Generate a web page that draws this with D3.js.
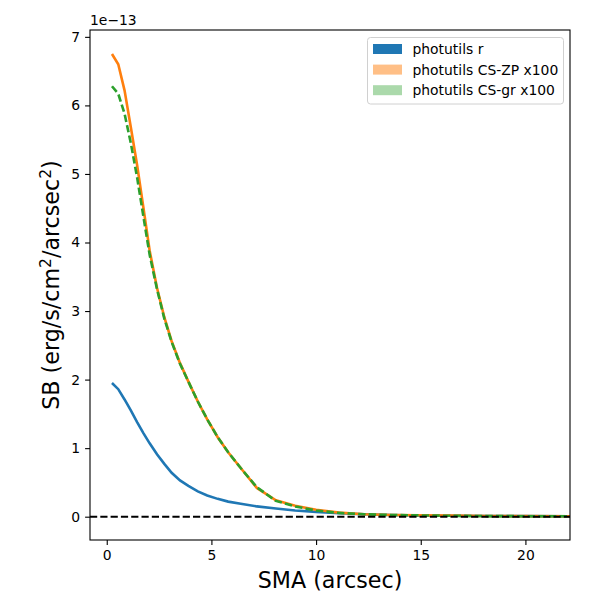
<!DOCTYPE html>
<html>
<head>
<meta charset="utf-8">
<script src="https://cdn.jsdelivr.net/npm/d3@7"></script>
<style>
  body { margin: 0; background: #fff; }
  svg text { font-family: "DejaVu Sans", sans-serif; }
</style>
</head>
<body>
<script>
// semi-major axis (arcsec)
const sma = [0.25, 0.55, 0.85, 1.15, 1.45, 1.75, 2.05, 2.4, 2.75, 3.1, 3.5, 3.9, 4.35, 4.8,
  5.3, 5.8, 6.4, 7.17, 8.08, 9.0, 10.0, 11.1, 12.3, 13.6, 15.0, 16.5, 18.2, 20.0, 22.5];
// surface brightness, units of 1e-13
const sbR = [1.95, 1.86, 1.71, 1.55, 1.38, 1.22, 1.07, 0.91, 0.77, 0.64, 0.53, 0.45, 0.37, 0.31,
  0.26, 0.22, 0.19, 0.15, 0.12, 0.09, 0.07, 0.05, 0.035, 0.025, 0.018, 0.013, 0.01, 0.008, 0.005];
const sbZP = [6.75, 6.60, 6.22, 5.68, 5.13, 4.51, 3.88, 3.34, 2.91, 2.56, 2.24, 1.97, 1.68, 1.42,
  1.16, 0.94, 0.71, 0.42, 0.24, 0.16, 0.10, 0.06, 0.035, 0.025, 0.02, 0.015, 0.01, 0.008, 0.005];
const sbGR = [6.28, 6.17, 5.88, 5.45, 4.95, 4.38, 3.82, 3.32, 2.89, 2.55, 2.23, 1.97, 1.68, 1.42,
  1.16, 0.94, 0.71, 0.43, 0.23, 0.15, 0.09, 0.055, 0.035, 0.025, 0.018, 0.013, 0.009, 0.007, 0.005];
const xTicks = [0, 5, 10, 15, 20];
const yTicks = [0, 1, 2, 3, 4, 5, 6, 7];
const legendLabels = ["photutils r", "photutils CS-ZP x100", "photutils CS-gr x100"];

const w = 600, h = 600;
const padL = 90, padR = 570, padT = 30, padB = 540;

const svg = d3.select("body").append("svg")
  .attr("width", w).attr("height", h);

const x = d3.scaleLinear().domain([-0.8, 22.13]).range([padL, padR]);
const y = d3.scaleLinear().domain([-0.34, 7.1]).range([padB, padT]);

svg.append("clipPath").attr("id", "clip")
  .append("rect").attr("x", padL).attr("y", padT)
  .attr("width", padR - padL).attr("height", padB - padT);

const plot = svg.append("g").attr("clip-path", "url(#clip)");

const line = (vals) => d3.line()
  .x((d, i) => x(sma[i]))
  .y((d) => y(d))(vals);

plot.append("path").attr("d", line(sbR))
  .attr("fill", "none").attr("stroke", "#1f77b4").attr("stroke-width", 2.6);
plot.append("path").attr("d", line(sbZP))
  .attr("fill", "none").attr("stroke", "#ff7f0e").attr("stroke-width", 2.6);
plot.append("path").attr("d", line(sbGR))
  .attr("fill", "none").attr("stroke", "#2ca02c").attr("stroke-width", 2.6)
  .attr("stroke-dasharray", "7.4,3.2");

// zero line
plot.append("line")
  .attr("x1", padL).attr("x2", padR)
  .attr("y1", y(0)).attr("y2", y(0))
  .attr("stroke", "#000").attr("stroke-width", 2)
  .attr("stroke-dasharray", "7.2,3.1");

// axes
const xAxis = svg.append("g")
  .attr("transform", "translate(0," + padB + ")")
  .call(d3.axisBottom(x).tickValues(xTicks).tickSize(4.9).tickPadding(4.9).tickSizeOuter(0));
const yAxis = svg.append("g")
  .attr("transform", "translate(" + padL + ",0)")
  .call(d3.axisLeft(y).tickValues(yTicks).tickSize(4.9).tickPadding(4.9).tickSizeOuter(0));
[xAxis, yAxis].forEach((a) => {
  a.select(".domain").remove();
  a.selectAll("line").attr("stroke", "#000").attr("stroke-width", 1.1);
  a.selectAll("text").attr("font-size", 13.9).attr("fill", "#000")
    .attr("font-family", "DejaVu Sans");
});

svg.append("rect")
  .attr("x", padL).attr("y", padT)
  .attr("width", padR - padL).attr("height", padB - padT)
  .attr("fill", "none").attr("stroke", "#000").attr("stroke-width", 1.1);

// offset text
svg.append("text").attr("x", padL).attr("y", 25)
  .attr("font-size", 13.9).text("1e\u221213");

// axis labels
svg.append("text")
  .attr("x", (padL + padR) / 2).attr("y", 588)
  .attr("text-anchor", "middle").attr("font-size", 22.2)
  .text("SMA (arcsec)");

const yl = svg.append("text")
  .attr("transform", "translate(59," + ((padT + padB) / 2) + ") rotate(-90)")
  .attr("text-anchor", "middle").attr("font-size", 22.2);
yl.append("tspan").text("SB (erg/s/cm");
yl.append("tspan").attr("font-size", 15.5).attr("dy", -8).text("2");
yl.append("tspan").attr("dy", 8).text("/arcsec");
yl.append("tspan").attr("font-size", 15.5).attr("dy", -8).text("2");
yl.append("tspan").attr("dy", 8).text(")");

// legend
const lg = svg.append("g");
lg.append("rect")
  .attr("x", 367.5).attr("y", 37.5).attr("width", 196).attr("height", 66.5)
  .attr("rx", 3).attr("fill", "#fff").attr("fill-opacity", 0.8)
  .attr("stroke", "#d0d0d0").attr("stroke-width", 1);
const patchColors = ["#1f77b4", "#ffbf86", "#abd9ab"];
legendLabels.forEach((t, i) => {
  const cy = 49 + i * 20.6;
  lg.append("rect").attr("x", 373).attr("y", cy - 5)
    .attr("width", 29).attr("height", 10).attr("fill", patchColors[i]);
  lg.append("text").attr("x", 412.5).attr("y", cy + 5)
    .attr("font-size", 13.9).text(t);
});
</script>
</body>
</html>
